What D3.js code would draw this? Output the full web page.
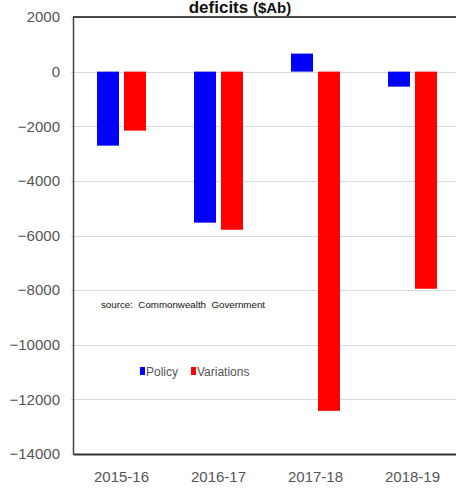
<!DOCTYPE html>
<html>
<head>
<meta charset="utf-8">
<script src="https://cdn.jsdelivr.net/npm/d3@7"></script>
<style>
  html, body { margin: 0; padding: 0; background: #fff; }
  svg { display: block; }
</style>
</head>
<body>
<svg id="chart" width="456" height="493"></svg>
<script>
// Budget deficit contributions by year ($A millions)
const years = ["2015-16", "2016-17", "2017-18", "2018-19"];
const policy = [-2710, -5530, 660, -550];
const variations = [-2160, -5790, -12420, -7950];
const seriesNames = ["Policy", "Variations"];
const seriesColors = ["#0000ff", "#ff0000"];
const yTicks = [2000, 0, -2000, -4000, -6000, -8000, -10000, -12000, -14000];

const svg = d3.select("#chart");
const font = "'Liberation Sans', Arial, sans-serif";

const plotLeft = 73, plotTop = 17, plotBottom = 454, plotRight = 461;

const x = d3.scaleBand().domain(years).range([plotLeft, plotRight]).paddingInner(0).paddingOuter(0);
const xs = d3.scaleBand().domain(seriesNames).range([0, x.bandwidth()]).paddingInner(0.185).paddingOuter(0.89);
const y = d3.scaleLinear().domain([-14000, 2000]).range([plotBottom, plotTop]);

// gridlines
svg.append("g")
  .selectAll("line")
  .data(yTicks)
  .join("line")
  .attr("x1", plotLeft - 2).attr("x2", plotRight)
  .attr("y1", d => Math.round(y(d)) + 0.5).attr("y2", d => Math.round(y(d)) + 0.5)
  .attr("stroke", "#d9d9d9").attr("stroke-width", 1.2);

// bars
const rows = years.map((yr, i) => ({ year: yr, values: [policy[i], variations[i]] }));
const groups = svg.append("g").selectAll("g")
  .data(rows).join("g")
  .attr("transform", d => `translate(${x(d.year)},0)`);
groups.selectAll("rect")
  .data(d => d.values.map((v, j) => ({ name: seriesNames[j], v, c: seriesColors[j] })))
  .join("rect")
  .attr("x", d => xs(d.name))
  .attr("width", xs.bandwidth())
  .attr("y", d => y(Math.max(0, d.v)))
  .attr("height", d => Math.abs(y(d.v) - y(0)))
  .attr("fill", d => d.c);

// y axis
const yAxis = d3.axisLeft(y).tickValues(yTicks).tickSize(0).tickPadding(13).tickFormat(d3.format("d"));
const ga = svg.append("g").attr("transform", `translate(${plotLeft},0)`).call(yAxis);
ga.select(".domain").attr("stroke", "#444").attr("stroke-width", 1.5);
ga.selectAll("text").attr("font-family", font).attr("font-size", 15).attr("fill", "#555");

// x axis
const xAxis = d3.axisBottom(x).tickSize(0).tickPadding(17);
const gx = svg.append("g").attr("transform", `translate(0,${plotBottom})`).call(xAxis);
gx.select(".domain").attr("stroke", "#333").attr("stroke-width", 2);
gx.selectAll("text").attr("font-family", font).attr("font-size", 15).attr("fill", "#555");

// top frame line
svg.append("line")
  .attr("x1", plotLeft).attr("x2", 456).attr("y1", plotTop).attr("y2", plotTop)
  .attr("stroke", "#111").attr("stroke-width", 1.5);

// title (upper lines run off the top)
const title = svg.append("text")
  .attr("x", 240).attr("y", 13)
  .attr("text-anchor", "middle")
  .attr("font-family", font).attr("font-size", 17).attr("fill", "#111");
title.append("tspan").attr("font-weight", "bold").text("deficits ");
title.append("tspan").attr("font-weight", "bold").attr("font-size", 15).text("($Ab)");

// source note
svg.append("text")
  .attr("x", 101).attr("y", 308)
  .style("white-space", "pre")
  .attr("font-family", font).attr("font-size", 9.5).attr("fill", "#111")
  .attr("textLength", 164).attr("lengthAdjust", "spacingAndGlyphs")
  .text("source:  Commonwealth  Government");

// legend
const legend = svg.append("g").attr("transform", "translate(140,372)");
const items = [{ n: seriesNames[0], c: seriesColors[0], dx: 0 }, { n: seriesNames[1], c: seriesColors[1], dx: 51 }];
items.forEach(it => {
  legend.append("rect").attr("x", it.dx).attr("y", -5).attr("width", 5).attr("height", 8).attr("fill", it.c);
  legend.append("text").attr("x", it.dx + 6).attr("y", 4)
    .attr("font-family", font).attr("font-size", 12).attr("fill", "#555").text(it.n);
});
</script>
</body>
</html>
